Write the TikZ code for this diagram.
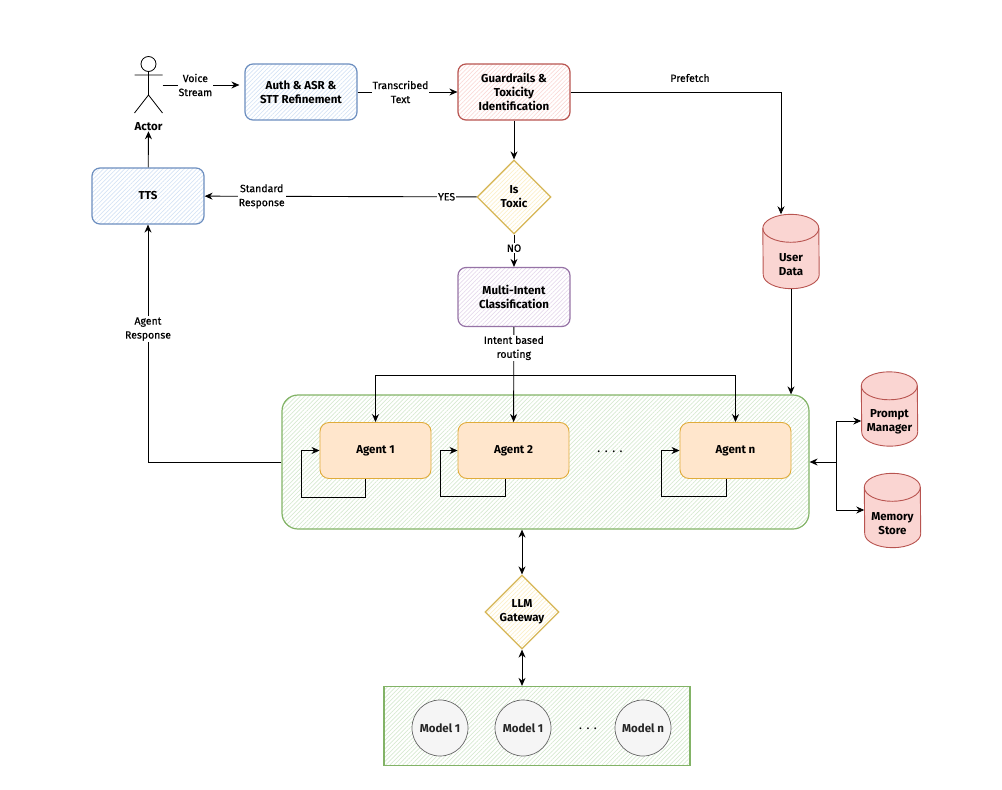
\documentclass[tikz,border=0pt]{standalone}
\usepackage{fontspec}
\setmainfont{Fira Sans}
\newfontfamily\lblfont[FakeBold=0.5]{Fira Sans}
\usetikzlibrary{calc,arrows.meta,patterns.meta,shapes.geometric}
\definecolor{bluest}{HTML}{6C8EBF}\definecolor{bluefl}{HTML}{D5E3F5}
\definecolor{redst}{HTML}{B85450}\definecolor{redfl}{HTML}{FADAD7}
\definecolor{yelst}{HTML}{D6B656}\definecolor{yelfl}{HTML}{FCEFC8}
\definecolor{purst}{HTML}{9673A6}\definecolor{purfl}{HTML}{E6DAEC}
\definecolor{grnst}{HTML}{82B366}\definecolor{grnfl}{HTML}{D6E9D1}
\definecolor{ornst}{HTML}{E0AC3A}\definecolor{ornfl}{HTML}{FFE6CC}
\definecolor{cylfl}{HTML}{FAD5D2}\definecolor{grayst}{HTML}{666666}\definecolor{grayfl}{HTML}{F5F5F5}
\newcommand{\dbshape}[1]{%
  \draw[dbline,fill=cylfl] ($(#1.north west)+(0,14)$) arc[start angle=180,end angle=0,x radius=28pt,y radius=14pt]
    -- ($(#1.south east)+(0,-14)$) arc[start angle=0,end angle=-180,x radius=28pt,y radius=14pt] -- cycle;
  \draw[dbline] ($(#1.north west)+(0,14)$) arc[start angle=180,end angle=360,x radius=28pt,y radius=14pt];}
\tikzset{
  x=1pt,y=-1pt,
  hatch/.style={pattern={Lines[angle=45,distance=3pt,line width=.7pt]},pattern color=#1},
  boxtxt/.style={font=\fontsize{11.5}{14}\selectfont\bfseries,text=black,align=center,inner sep=0pt},
  sbox/.style 2 args={boxtxt,draw=#1,hatch=#2,line width=1.2pt,rounded corners=8pt,minimum width=112pt,minimum height=56pt},
  dia/.style 2 args={boxtxt,diamond,draw=#1,hatch=#2,line width=1.2pt,minimum width=74pt,minimum height=74pt},
  agentbox/.style={boxtxt,draw=ornst,fill=ornfl,line width=.9pt,rounded corners=9pt,minimum width=111pt,minimum height=56pt},
  db/.style={inner sep=0pt,minimum width=56pt,minimum height=74pt},
  dbline/.style={draw=redst,line width=.9pt},
  modelc/.style={boxtxt,circle,draw=grayst,fill=grayfl,line width=.7pt,minimum size=56pt,text=black!85},
  conn/.style={draw=black,line width=.9pt,-{Stealth[length=8pt,width=7pt]}},
  bothconn/.style={draw=black,line width=.9pt,{Stealth[length=8pt,width=7pt]}-{Stealth[length=8pt,width=7pt]}},
  lbl/.style={font=\fontsize{10.5}{14}\selectfont\lblfont,fill=white,align=center,inner sep=1pt,text=black},
  dots/.style={font=\fontsize{10}{12}\selectfont\bfseries,inner sep=0pt}
}
\begin{document}
\begin{tikzpicture}
\useasboundingbox (0,0) rectangle (1002,790);
% containers
\node[sbox={grnst}{grnfl},rounded corners=16pt,minimum width=527pt,minimum height=134pt] (agents) at (545.5,462) {};
\node[sbox={grnst}{grnfl},rounded corners=0pt,minimum width=306pt,minimum height=79pt] (models) at (537,726) {};
% boxes
\node[sbox={bluest}{bluefl}] (auth) at (301,92) {Auth \& ASR \&\\STT Refinement};
\node[sbox={redst}{redfl}] (guard) at (514,92) {Guardrails \&\\Toxicity\\Identification};
\node[sbox={bluest}{bluefl}] (tts) at (148,196) {\raisebox{-1pt}{TTS}};
\node[dia={yelst}{yelfl}] (toxic) at (514,197) {Is\\Toxic};
\node[sbox={purst}{purfl},minimum height=59pt] (multi) at (514,297) {Multi-Intent\\Classification};
\node[agentbox] (a1) at (375.5,450.5) {\raisebox{-2pt}{Agent 1}};
\node[agentbox] (a2) at (513.5,450.5) {\raisebox{-2pt}{Agent 2}};
\node[agentbox] (an) at (735.5,450.5) {\raisebox{-2pt}{Agent n}};
\node[dots] (adots) at (610,452) {.\,\,\,.\,\,\,.\,\,\,.};
\node[dia={yelst}{yelfl}] (gw) at (522,612) {LLM\\Gateway};
\node[modelc] (m1) at (440,728) {Model 1};
\node[modelc] (m2) at (523,728) {Model 1};
\node[modelc] (mn) at (643,728) {Model n};
\node[dots] (mdots) at (588,729) {.\,\,\,.\,\,\,.};
\node[db] (user) at (791,251.5) {};
\dbshape{user}
\node[boxtxt] (usertxt) at ($(user)+(0,13)$) {User\\Data};
\node[db] (prompt) at (889.5,409) {};
\dbshape{prompt}
\node[boxtxt] (prompttxt) at ($(prompt)+(0,13)$) {Prompt\\Manager};
\node[db] (memory) at (892.5,510.5) {};
\dbshape{memory}
\node[boxtxt] (memorytxt) at ($(memory)+(0,13)$) {Memory\\Store};
% actor
\node[inner sep=0pt,minimum width=28pt,minimum height=57pt] (actor) at (148.5,85) {};
\node[circle,draw=black,line width=.8pt,minimum size=15pt,inner sep=0pt] (head) at (148.5,64) {};
\coordinate (hip) at (148.5,95);
\draw[line width=.8pt] (head.south) -- (hip) (134.5,75) -- (162.5,75) (134.5,113) -- (hip) -- (162.5,113);
\node[boxtxt] (actorl) at (148.5,127) {Actor};
% connectors
\draw[conn,shorten >=5pt] (actor.east) -- (actor.east -| auth.west) node[lbl,pos=.4] {Voice\\Stream};
\draw[conn] (auth) -- (guard) node[lbl,pos=.43] {Transcribed\\Text};
\draw[conn] (guard) -- (toxic);
\draw[conn] (toxic) -- (tts) node[lbl,pos=.79] {Standard\\Response} node[lbl,pos=.11] {YES};
\draw[conn] (tts) -- (actorl);
\draw[conn] (toxic) -- (multi) node[lbl,pos=.42] {NO};
\draw[conn] (multi) -- (a2) node[lbl,pos=.22] {Intent based\\routing};
\coordinate (bus) at (514,375);
\draw[conn] (bus) -- (bus -| a1) -- (a1);
\draw[conn] (bus) -- (bus -| an) -- (an);
\coordinate (pfx) at ($(user.north)+(-10,0)$);
\draw[conn] (guard.east) -- (guard.east -| pfx) -- (pfx);
\node[lbl] (prefetch) at (690,78) {Prefetch};
\draw[conn] (user.south) -- (user.south |- agents.north);
\coordinate (ag) at (agents.west |- 0,462);
\draw[conn] (ag) -- (ag -| tts) -- (tts) node[lbl,pos=.56] {Agent\\Response};
% self loops
\draw[conn] ($(a1.south)+(-10,0)$) -- ++(0,18) -| (301,450.5) -- (a1.west);
\draw[conn] ($(a2.south)+(-8,0)$) -- ++(0,17) -| (440,450.5) -- (a2.west);
\draw[conn] ($(an.south)+(-9,0)$) -- ++(0,17) -| (661,450.5) -- (an.west);
% stores
\coordinate (jn) at (836.5,462);
\draw[conn] (jn) -- (agents.east |- jn);
\draw[conn] (jn) |- (prompt.west |- 0,421);
\draw[conn] (jn) |- (memory.west |- 0,510);
\draw[bothconn] (agents.south -| gw) -- (gw.north);
\draw[bothconn] (gw.south) -- (models.north -| gw);
\end{tikzpicture}
\end{document}
